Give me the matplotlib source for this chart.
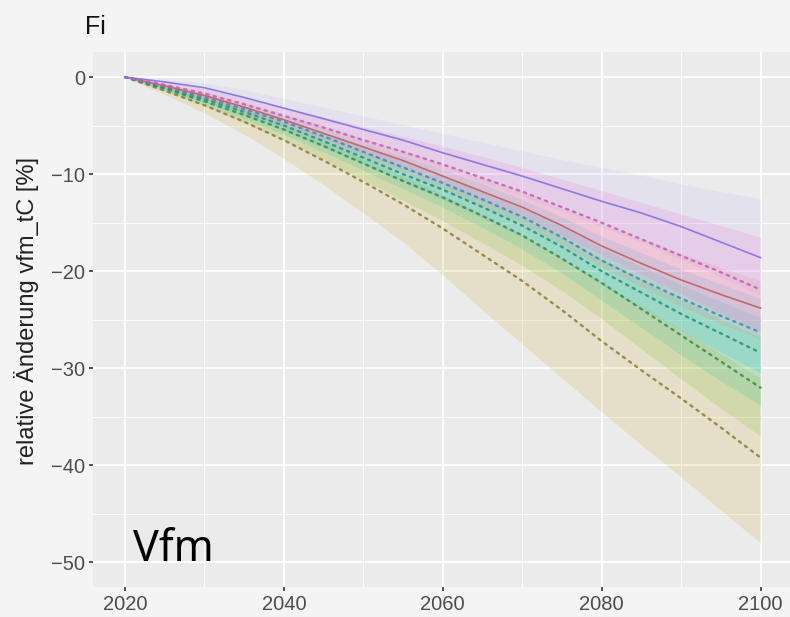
import matplotlib
matplotlib.use("Agg")
import matplotlib.pyplot as plt
import numpy as np

years = [2020, 2025, 2030, 2035, 2040, 2045, 2050, 2055, 2060,
         2065, 2070, 2075, 2080, 2085, 2090, 2095, 2100]

# mean lines
purple = [0, -0.5, -1.1, -2.1, -3.2, -4.3, -5.4, -6.5, -7.8, -9.0, -10.2, -11.5, -12.8, -14.0, -15.4, -17.0, -18.6]
pink = [0, -0.8, -1.7, -2.8, -4.0, -5.2, -6.5, -7.7, -9.0, -10.4, -11.8, -13.4, -15.0, -16.7, -18.4, -20.1, -21.9]
red = [0, -0.9, -1.9, -3.1, -4.4, -5.8, -7.2, -8.6, -10.2, -11.8, -13.4, -15.3, -17.4, -19.2, -20.9, -22.4, -23.8]
blue = [0, -1.0, -2.1, -3.3, -4.6, -6.1, -7.7, -9.3, -10.9, -12.6, -14.4, -16.5, -18.9, -20.9, -22.8, -24.6, -26.3]
teal = [0, -1.1, -2.3, -3.6, -5.0, -6.6, -8.3, -10.0, -11.6, -13.4, -15.3, -17.5, -20.0, -22.2, -24.4, -26.4, -28.4]
green = [0, -1.2, -2.5, -3.9, -5.4, -7.1, -8.9, -10.7, -12.4, -14.3, -16.3, -18.7, -21.2, -23.9, -26.6, -29.3, -32.0]
olive = [0, -1.4, -2.9, -4.6, -6.5, -8.6, -10.8, -13.1, -15.6, -18.3, -21.0, -24.0, -27.2, -30.2, -33.1, -36.1, -39.2]

# ribbons (upper / lower)
purple_hi = [0, -0.2, -0.6, -1.3, -2.2, -3.1, -4.0, -4.9, -5.8, -6.7, -7.6, -8.5, -9.3, -10.1, -11.0, -11.8, -12.5]
purple_lo = [0, -0.8, -1.6, -2.8, -4.1, -5.4, -6.7, -8.0, -9.4, -10.8, -12.3, -13.8, -15.4, -17.0, -18.8, -20.6, -22.5]
pink_hi = [0, -0.5, -1.2, -2.1, -3.1, -4.1, -5.1, -6.1, -7.1, -8.2, -9.3, -10.5, -11.7, -12.9, -14.1, -15.3, -16.5]
pink_lo = [0, -1.1, -2.2, -3.5, -4.9, -6.3, -7.9, -9.4, -11.0, -12.7, -14.4, -16.3, -18.3, -20.3, -22.3, -24.3, -26.2]
red_hi = [0, -0.7, -1.5, -2.6, -3.8, -5.0, -6.3, -7.6, -9.0, -10.4, -11.8, -13.4, -15.1, -16.7, -18.2, -19.6, -21.0]
red_lo = [0, -1.1, -2.3, -3.6, -5.0, -6.6, -8.2, -9.8, -11.5, -13.3, -15.1, -17.2, -19.6, -21.6, -23.6, -25.4, -27.0]
blue_hi = [0, -0.8, -1.7, -2.8, -4.0, -5.3, -6.7, -8.1, -9.5, -11.0, -12.6, -14.4, -16.4, -18.1, -19.8, -21.3, -22.8]
blue_lo = [0, -1.3, -2.6, -4.0, -5.5, -7.2, -9.0, -10.8, -12.6, -14.5, -16.5, -18.8, -21.4, -23.8, -26.1, -28.3, -30.5]
teal_hi = [0, -0.9, -1.9, -3.0, -4.3, -5.7, -7.2, -8.7, -10.2, -11.8, -13.5, -15.4, -17.6, -19.5, -21.4, -23.1, -24.8]
teal_lo = [0, -1.4, -2.8, -4.3, -5.9, -7.7, -9.6, -11.5, -13.4, -15.5, -17.7, -20.2, -23.0, -25.8, -28.6, -31.3, -33.8]
green_hi = [0, -1.0, -2.1, -3.3, -4.6, -6.1, -7.7, -9.3, -10.9, -12.6, -14.4, -16.5, -18.7, -20.8, -22.9, -24.9, -26.8]
green_lo = [0, -1.5, -3.0, -4.7, -6.5, -8.5, -10.6, -12.7, -14.8, -17.1, -19.4, -22.0, -24.9, -28.0, -31.1, -34.1, -37.0]
olive_hi = [0, -1.0, -2.1, -3.4, -4.9, -6.6, -8.4, -10.2, -12.1, -14.2, -16.3, -18.7, -21.2, -23.6, -26.0, -28.5, -31.0]
olive_lo = [0, -1.8, -3.7, -5.9, -8.4, -11.1, -14.0, -17.0, -20.4, -24.0, -27.5, -31.0, -34.5, -37.9, -41.2, -44.6, -48.0]

x_ticks = [2020, 2040, 2060, 2080, 2100]
y_ticks = [0, -10, -20, -30, -40, -50]

series = [
    (olive, olive_hi, olive_lo, "#C49A00", ":", 0.14),
    (green, green_hi, green_lo, "#53B400", ":", 0.14),
    (teal, teal_hi, teal_lo, "#00C094", ":", 0.14),
    (blue, blue_hi, blue_lo, "#00B6EB", ":", 0.14),
    (red, red_hi, red_lo, "#F8766D", "-", 0.14),
    (pink, pink_hi, pink_lo, "#FB61D7", ":", 0.16),
    (purple, purple_hi, purple_lo, "#A58AFF", "-", 0.10),
]

plt.rcParams['font.family'] = ['Liberation Sans', 'DejaVu Sans']

fig = plt.figure(figsize=(7.9, 6.17), dpi=100)
fig.patch.set_facecolor("#F4F4F4")
ax = fig.add_axes([0.118, 0.049, 0.882, 0.867])
ax.set_facecolor("#EBEBEB")

for vals, hi, lo, col, ls, a in series:
    ax.fill_between(years, lo, hi, color=col, alpha=a, lw=0)

darker = {"#C49A00": "#8F7A3A", "#53B400": "#3E8A4A", "#00C094": "#2A8E80",
          "#00B6EB": "#3E8DB5", "#F8766D": "#C0605C", "#FB61D7": "#C45FAE",
          "#A58AFF": "#8470E0"}
for vals, hi, lo, col, ls, a in series:
    if ls == ":":
        ax.plot(years, vals, color=darker[col], lw=1.7, alpha=0.85,
                linestyle=(0, (1, 2.2)), dash_capstyle="round")
    else:
        ax.plot(years, vals, color=darker[col], lw=1.2, alpha=0.9)

ax.set_xlim(2016, 2103.7)
ax.set_ylim(-52.5, 2.6)
ax.set_xticks(x_ticks)
ax.set_yticks(y_ticks)
ax.set_xticks([2030, 2050, 2070, 2090], minor=True)
ax.set_yticks([-5, -15, -25, -35, -45], minor=True)
ax.grid(which="major", color="white", lw=1.3)
ax.grid(which="minor", color="white", lw=0.6)
ax.set_axisbelow(True)
for s in ax.spines.values():
    s.set_visible(False)
ax.tick_params(which="major", length=3, width=1.2, color="#333333",
               labelcolor="#4D4D4D", labelsize=14.5, pad=3)
ax.tick_params(which="minor", length=0)

ax.set_ylabel("relative Änderung vfm_tC [%]", fontsize=17, color="#222222")
ax.yaxis.set_label_coords(-0.078, 0.516)
fig.text(0.108, 0.945, "Fi", fontsize=18, color="#111111", ha="left", va="baseline")
ax.text(2021, -49.8, "Vfm", fontsize=31, color="black", family=["Noto Sans", "DejaVu Sans"],
        ha="left", va="baseline")

fig.savefig("out.png", dpi=100, facecolor=fig.get_facecolor())
